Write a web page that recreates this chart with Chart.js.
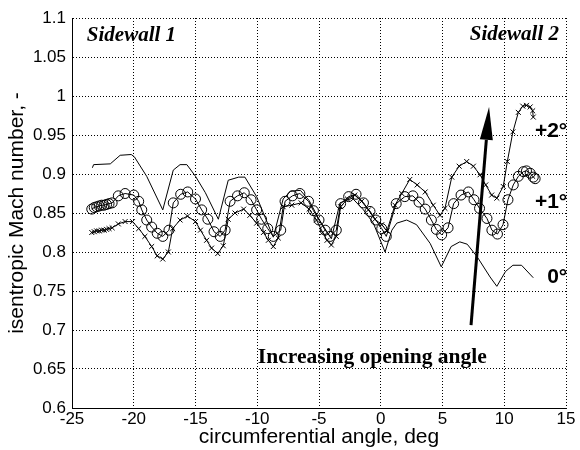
<!DOCTYPE html>
<html>
<head>
<meta charset="utf-8">
<script src="https://cdn.jsdelivr.net/npm/chart.js@4/dist/chart.umd.min.js"></script>
<style>
  html, body { margin: 0; padding: 0; background: #fff; }
</style>
</head>
<body>
<canvas id="chart" width="580" height="450"></canvas>
<script>
(function(){
  'use strict';

  // tick labels
  let xTicks = [-25, -20, -15, -10, -5, 0, 5, 10, 15];
  let yTicks = [0.6, 0.65, 0.7, 0.75, 0.8, 0.85, 0.9, 0.95, 1, 1.05, 1.1];
  let yTickLabels = ['0.6', '0.65', '0.7', '0.75', '0.8', '0.85', '0.9', '0.95', '1', '1.05', '1.1'];

  // 0 deg opening (plain line)
  let angle0 = [-23.35, -23.25, -21.9, -21.1, -20.2, -19.95, -18.95, -17.65, -16.8, -16.25,
    -15.7, -15.0, -14.2, -13.15, -12.35, -11.5, -11.0, -10.05, -8.7, -7.9,
    -7.3, -6.5, -5.8, -5.0, -4.0, -3.3, -2.3, -1.4, -0.6, 0.35,
    0.9, 1.3, 2.1, 2.9, 4.0, 4.9, 5.7, 6.4, 7.0, 7.8,
    8.85, 9.4, 10.1, 10.7, 11.4, 12.35];
  let mach0 = [0.908, 0.912, 0.913, 0.924, 0.925, 0.922, 0.897, 0.854, 0.905, 0.912,
    0.912, 0.897, 0.876, 0.842, 0.892, 0.896, 0.896, 0.871, 0.819, 0.868,
    0.878, 0.879, 0.866, 0.842, 0.817, 0.863, 0.869, 0.854, 0.837, 0.800,
    0.828, 0.837, 0.841, 0.835, 0.811, 0.781, 0.807, 0.813, 0.810, 0.794,
    0.768, 0.756, 0.775, 0.783, 0.783, 0.767];

  // +1 deg opening (circles)
  let angle1 = [-23.4, -23.2, -23.0, -22.8, -22.6, -22.4, -22.2, -22.0, -21.75, -21.25,
    -20.7, -20.0, -19.6, -19.35, -18.95, -18.55, -18.1, -17.65, -17.15, -16.8,
    -16.2, -15.63, -15.0, -14.5, -14.0, -13.5, -13.0, -12.6, -12.2, -11.6,
    -11.05, -10.5, -10.05, -9.65, -9.15, -8.7, -8.1, -7.75, -7.15, -6.55,
    -5.85, -5.45, -5.0, -4.5, -4.1, -3.6, -3.25, -2.6, -2.0, -1.4,
    -0.87, -0.4, 0.08, 0.45, 1.25, 1.95, 2.6, 3.1, 3.6, 4.1,
    4.5, 4.93, 5.45, 5.9, 6.5, 7.1, 7.55, 8.0, 8.6, 9.0,
    9.45, 9.9, 10.3, 10.73, 11.14, 11.55, 11.8, 12.1, 12.35, 12.5];
  let mach1 = [0.855, 0.857, 0.858, 0.859, 0.860, 0.860, 0.861, 0.862, 0.863, 0.872,
    0.875, 0.873, 0.865, 0.854, 0.841, 0.832, 0.824, 0.820, 0.828, 0.863,
    0.874, 0.877, 0.868, 0.854, 0.842, 0.826, 0.820, 0.828, 0.865, 0.872,
    0.876, 0.867, 0.854, 0.842, 0.830, 0.820, 0.828, 0.865, 0.872, 0.875,
    0.865, 0.853, 0.841, 0.828, 0.820, 0.828, 0.862, 0.871, 0.874, 0.863,
    0.852, 0.841, 0.830, 0.820, 0.862, 0.871, 0.872, 0.864, 0.855, 0.841,
    0.829, 0.822, 0.831, 0.862, 0.873, 0.877, 0.867, 0.856, 0.843, 0.828,
    0.823, 0.835, 0.867, 0.886, 0.897, 0.903, 0.904, 0.901, 0.896, 0.894];

  // +2 deg opening (crosses)
  let angle2 = [-23.4, -23.2, -23.0, -22.8, -22.6, -22.4, -22.2, -22.0, -21.75, -21.25,
    -20.7, -20.1, -19.6, -19.1, -18.55, -18.1, -17.65, -17.2, -16.85, -16.25,
    -15.65, -15.0, -14.6, -14.1, -13.7, -13.2, -12.75, -12.35, -11.8, -11.1,
    -10.6, -10.05, -9.5, -9.1, -8.7, -8.3, -7.9, -7.2, -6.45, -5.8,
    -5.2, -4.7, -4.35, -4.0, -3.6, -3.25, -2.7, -2.1, -1.55, -1.0,
    -0.47, 0.08, 0.5, 1.15, 1.7, 2.35, 2.95, 3.6, 4.25, 4.8,
    5.2, 5.75, 6.35, 6.96, 7.5, 8.04, 8.5, 8.98, 9.4, 9.92,
    10.25, 10.7, 11.14, 11.5, 11.8, 12.1, 12.3, 12.35];
  let mach2 = [0.825, 0.826, 0.827, 0.827, 0.828, 0.828, 0.829, 0.830, 0.831, 0.836,
    0.839, 0.839, 0.830, 0.820, 0.807, 0.795, 0.791, 0.800, 0.830, 0.841,
    0.846, 0.839, 0.828, 0.815, 0.805, 0.798, 0.808, 0.842, 0.850, 0.855,
    0.847, 0.837, 0.825, 0.815, 0.807, 0.818, 0.858, 0.860, 0.863, 0.855,
    0.841, 0.825, 0.815, 0.809, 0.820, 0.858, 0.868, 0.873, 0.865, 0.854,
    0.842, 0.835, 0.827, 0.860, 0.875, 0.893, 0.886, 0.877, 0.860, 0.847,
    0.856, 0.896, 0.910, 0.916, 0.910, 0.899, 0.886, 0.873, 0.869, 0.884,
    0.916, 0.954, 0.979, 0.987, 0.988, 0.986, 0.981, 0.973];

  function toPoints(xs, ys) {
    return xs.map(function(x, i){ return {x: x, y: ys[i]}; });
  }

  let canvas = document.getElementById('chart');

  // text labels drawn on the plot, in data coordinates
  let notes = [
    {text: 'Sidewall 1', x: -23.8, y: 1.071, align: 'left', font: 'italic bold 21px "Liberation Serif"'},
    {text: 'Sidewall 2', x: 14.43, y: 1.072, align: 'right', font: 'italic bold 21px "Liberation Serif"'},
    {text: '+2°', x: 15.1, y: 0.948, align: 'right', font: 'bold 21px "Liberation Sans"'},
    {text: '+1°', x: 15.1, y: 0.857, align: 'right', font: 'bold 21px "Liberation Sans"'},
    {text: '0°', x: 15.1, y: 0.760, align: 'right', font: 'bold 21px "Liberation Sans"'},
    {text: 'Increasing opening angle', x: -9.95, y: 0.658, align: 'left', font: 'bold 21.5px "Liberation Serif"'}
  ];
  let arrowFrom = {x: 7.31, y: 0.7064};
  let arrowTo = {x: 8.77, y: 0.986};

  let annotations = {
    id: 'annotations',
    afterDatasetsDraw: function(chart) {
      let ctx = chart.ctx;
      let xs = chart.scales.x, ys = chart.scales.y;
      ctx.save();
      ctx.fillStyle = '#000';
      ctx.strokeStyle = '#000';
      ctx.textBaseline = 'alphabetic';
      notes.forEach(function(n){
        ctx.font = n.font;
        ctx.textAlign = n.align;
        ctx.fillText(n.text, xs.getPixelForValue(n.x), ys.getPixelForValue(n.y));
      });
      // arrow
      let x0 = xs.getPixelForValue(arrowFrom.x), y0 = ys.getPixelForValue(arrowFrom.y);
      let x1 = xs.getPixelForValue(arrowTo.x), y1 = ys.getPixelForValue(arrowTo.y);
      let dx = x1 - x0, dy = y1 - y0;
      let len = Math.sqrt(dx * dx + dy * dy);
      let ux = dx / len, uy = dy / len;
      let headLen = 33, headHalf = 6.5;
      let bx = x1 - ux * headLen, by = y1 - uy * headLen;
      ctx.lineWidth = 3;
      ctx.beginPath();
      ctx.moveTo(x0, y0);
      ctx.lineTo(bx, by);
      ctx.stroke();
      ctx.beginPath();
      ctx.moveTo(x1, y1);
      ctx.lineTo(bx - uy * headHalf, by + ux * headHalf);
      ctx.lineTo(bx + uy * headHalf, by - ux * headHalf);
      ctx.closePath();
      ctx.fill();
      ctx.restore();
    }
  };

  let gridOpts = {
    color: '#000',
    lineWidth: 1,
    drawTicks: false
  };

  let chart = new Chart(canvas, {
    type: 'scatter',
    data: {
      datasets: [
        {
          label: '0°',
          data: toPoints(angle0, mach0),
          showLine: true,
          borderColor: '#000',
          borderWidth: 1,
          pointRadius: 0,
          tension: 0
        },
        {
          label: '+1°',
          data: toPoints(angle1, mach1),
          showLine: true,
          borderColor: '#000',
          borderWidth: 1,
          pointStyle: 'circle',
          pointRadius: 5,
          pointBorderWidth: 1,
          pointBorderColor: '#000',
          pointBackgroundColor: 'rgba(0,0,0,0)',
          tension: 0
        },
        {
          label: '+2°',
          data: toPoints(angle2, mach2),
          showLine: true,
          borderColor: '#000',
          borderWidth: 1,
          pointStyle: 'crossRot',
          pointRadius: 3.5,
          pointBorderWidth: 1,
          pointBorderColor: '#000',
          tension: 0
        }
      ]
    },
    options: {
      responsive: false,
      animation: false,
      layout: { padding: { top: 18, right: 14, left: 0, bottom: 0 } },
      plugins: {
        legend: { display: false },
        tooltip: { enabled: false }
      },
      scales: {
        x: {
          type: 'linear',
          min: -25,
          max: 15,
          afterBuildTicks: function(scale){ scale.ticks = xTicks.map(function(v){ return {value: v}; }); },
          afterFit: function(scale){ scale.height = 42; },
          grid: Object.assign({}, gridOpts),
          border: { display: true, color: '#000', width: 1, dash: [1, 2] },
          ticks: {
            color: '#000',
            padding: 1,
            maxRotation: 0,
            autoSkip: false,
            font: { family: '"Liberation Sans", Arial', size: 17 }
          },
          title: {
            display: true,
            text: 'circumferential angle, deg',
            color: '#000',
            padding: { top: 0, bottom: 0 },
            font: { family: '"Liberation Sans", Arial', size: 21 }
          }
        },
        y: {
          type: 'linear',
          min: 0.6,
          max: 1.1,
          afterBuildTicks: function(scale){ scale.ticks = yTicks.map(function(v){ return {value: v}; }); },
          afterFit: function(scale){ scale.width = 72; },
          grid: Object.assign({}, gridOpts),
          border: { display: true, color: '#000', width: 1, dash: [1, 2] },
          ticks: {
            color: '#000',
            padding: 6,
            autoSkip: false,
            font: { family: '"Liberation Sans", Arial', size: 17 },
            callback: function(value, index){ return yTickLabels[index]; }
          },
          title: {
            display: true,
            text: 'isentropic Mach number, -',
            color: '#000',
            padding: { top: 5, bottom: 0 },
            font: { family: '"Liberation Sans", Arial', size: 21 }
          }
        }
      }
    },
    plugins: [annotations]
  });
})();
</script>
</body>
</html>
